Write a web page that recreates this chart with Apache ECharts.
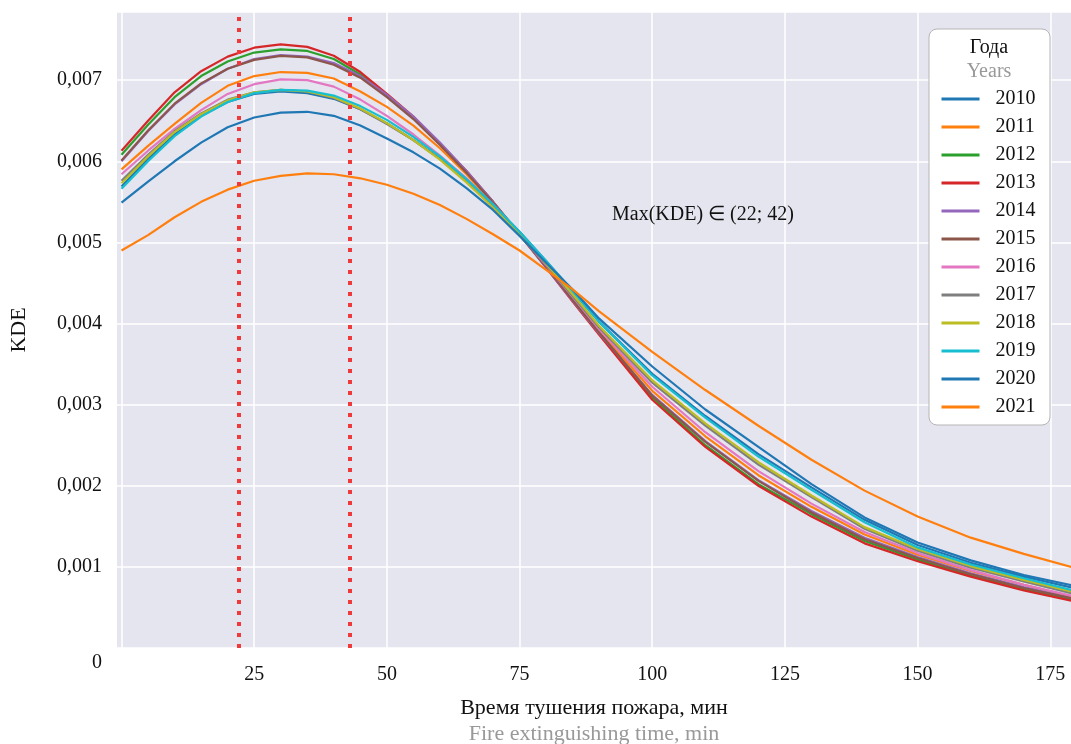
<!DOCTYPE html>
<html>
<head>
<meta charset="utf-8">
<script src="https://cdn.jsdelivr.net/npm/echarts@6/dist/echarts.min.js"></script>
<style>
  html, body { margin: 0; padding: 0; background: #fff; }
  #main { width: 1071px; height: 744px; }
</style>
</head>
<body>
<div id="main"></div>
<script>
// time, min
const xs = [0, 5, 10, 15, 20, 25, 30, 35, 40, 45, 50, 55, 60, 65, 70, 75, 80, 85, 90,
  100, 110, 120, 130, 140, 150, 160, 170, 180];

// KDE values, x10^-3
const kde2010 = [5.69, 6.03, 6.33, 6.56, 6.73, 6.83, 6.86, 6.84, 6.77, 6.64, 6.47, 6.26, 6.03, 5.76, 5.46, 5.13, 4.77, 4.40, 4.02, 3.38, 2.86, 2.39, 1.98, 1.58, 1.27, 1.05, 0.88, 0.73];
const kde2011 = [5.90, 6.19, 6.46, 6.72, 6.93, 7.05, 7.10, 7.09, 7.02, 6.86, 6.67, 6.44, 6.16, 5.84, 5.48, 5.09, 4.70, 4.31, 3.91, 3.17, 2.61, 2.13, 1.74, 1.40, 1.15, 0.95, 0.78, 0.62];
const kde2012 = [6.08, 6.45, 6.79, 7.05, 7.23, 7.34, 7.38, 7.36, 7.26, 7.07, 6.81, 6.53, 6.21, 5.87, 5.50, 5.10, 4.70, 4.29, 3.88, 3.09, 2.50, 2.02, 1.65, 1.32, 1.09, 0.89, 0.72, 0.58];
const kde2013 = [6.13, 6.50, 6.85, 7.11, 7.29, 7.40, 7.44, 7.41, 7.30, 7.10, 6.83, 6.55, 6.22, 5.88, 5.50, 5.10, 4.69, 4.27, 3.86, 3.06, 2.48, 2.00, 1.62, 1.29, 1.07, 0.88, 0.71, 0.57];
const kde2014 = [6.00, 6.37, 6.70, 6.95, 7.14, 7.26, 7.31, 7.29, 7.21, 7.05, 6.82, 6.55, 6.23, 5.88, 5.50, 5.10, 4.69, 4.28, 3.88, 3.12, 2.55, 2.07, 1.69, 1.36, 1.12, 0.92, 0.75, 0.60];
const kde2015 = [6.01, 6.38, 6.71, 6.96, 7.14, 7.25, 7.30, 7.28, 7.19, 7.03, 6.79, 6.52, 6.20, 5.86, 5.49, 5.10, 4.70, 4.29, 3.89, 3.11, 2.54, 2.06, 1.67, 1.34, 1.11, 0.91, 0.74, 0.60];
const kde2016 = [5.84, 6.13, 6.40, 6.63, 6.83, 6.95, 7.01, 7.00, 6.92, 6.76, 6.56, 6.33, 6.07, 5.79, 5.46, 5.10, 4.72, 4.33, 3.93, 3.22, 2.66, 2.18, 1.78, 1.43, 1.17, 0.96, 0.78, 0.63];
const kde2017 = [5.76, 6.08, 6.37, 6.59, 6.76, 6.85, 6.88, 6.86, 6.78, 6.64, 6.46, 6.26, 6.03, 5.75, 5.44, 5.11, 4.73, 4.34, 3.95, 3.27, 2.74, 2.26, 1.86, 1.47, 1.20, 0.99, 0.82, 0.66];
const kde2018 = [5.73, 6.06, 6.36, 6.58, 6.75, 6.85, 6.88, 6.86, 6.79, 6.65, 6.47, 6.26, 6.02, 5.74, 5.43, 5.10, 4.74, 4.36, 3.97, 3.30, 2.77, 2.29, 1.88, 1.49, 1.22, 1.01, 0.84, 0.68];
const kde2019 = [5.66, 6.00, 6.31, 6.55, 6.73, 6.84, 6.88, 6.87, 6.81, 6.68, 6.51, 6.30, 6.06, 5.78, 5.47, 5.13, 4.77, 4.40, 4.02, 3.36, 2.84, 2.36, 1.95, 1.55, 1.24, 1.03, 0.86, 0.70];
const kde2020 = [5.49, 5.75, 6.00, 6.23, 6.42, 6.54, 6.60, 6.61, 6.56, 6.44, 6.28, 6.11, 5.91, 5.67, 5.40, 5.08, 4.75, 4.42, 4.06, 3.47, 2.94, 2.48, 2.02, 1.61, 1.30, 1.08, 0.90, 0.76];
const kde2021 = [4.90, 5.09, 5.31, 5.50, 5.65, 5.76, 5.82, 5.85, 5.84, 5.79, 5.71, 5.60, 5.46, 5.29, 5.10, 4.90, 4.66, 4.42, 4.15, 3.65, 3.18, 2.74, 2.32, 1.94, 1.62, 1.36, 1.16, 0.98];

const years = ["2010", "2011", "2012", "2013", "2014", "2015", "2016", "2017", "2018", "2019", "2020", "2021"];
const allKde = [kde2010, kde2011, kde2012, kde2013, kde2014, kde2015, kde2016, kde2017, kde2018, kde2019, kde2020, kde2021];
const colors = ["#1f77b4", "#ff7f0e", "#2ca02c", "#d62728", "#9467bd", "#8c564b",
  "#e377c2", "#7f7f7f", "#bcbd22", "#17becf", "#1f77b4", "#ff7f0e"];

const xTicks = [0, 25, 50, 75, 100, 125, 150, 175];
const xLabels = [25, 50, 75, 100, 125, 150, 175];
const maxBounds = [22, 43]; // dotted lines
const note = "Max(KDE) \u2208 (22; 42)";

const font = "Liberation Serif";

let chart = echarts.init(document.getElementById("main"));

let series = years.map((y, i) => ({
  name: y,
  type: "line",
  data: xs.map((x, j) => [x, allKde[i][j] / 1000]),
  showSymbol: false,
  symbol: "none",
  lineStyle: { width: 2.2, color: colors[i] },
  itemStyle: { color: colors[i] },
  z: 2,
}));

// dotted bounds on top of curves
series.push({
  type: "line",
  data: [],
  silent: true,
  z: 3,
  markLine: {
    silent: true,
    symbol: ["none", "none"],
    label: { show: false },
    lineStyle: { color: "#f0393a", width: 4, type: [4, 7], cap: "butt" },
    data: maxBounds.map((v) => ({ xAxis: v })),
  },
});

let option = {
  animation: false,
  color: colors,
  grid: {
    left: 117, right: 0, top: 12, bottom: 96,
    outerBoundsMode: "none",
    show: true, backgroundColor: "#e5e5ef", borderWidth: 0,
  },
  xAxis: {
    type: "value",
    min: -0.85,
    max: 178.9,
    axisLine: { show: false },
    axisTick: { show: false, customValues: xTicks },
    axisLabel: {
      customValues: xLabels,
      fontFamily: font, fontSize: 20, color: "#111", margin: 17,
    },
    splitLine: { show: true, lineStyle: { color: "#ffffff", width: 1.5 } },
    name: "{a|Время тушения пожара, мин}\n{b|Fire extinguishing time, min}",
    nameLocation: "middle",
    nameGap: 47,
    nameTextStyle: {
      rich: {
        a: { fontFamily: font, fontSize: 22, color: "#111", lineHeight: 26 },
        b: { fontFamily: font, fontSize: 22, color: "#999", lineHeight: 26 },
      },
    },
  },
  yAxis: {
    type: "value",
    min: 0,
    max: 0.00784,
    interval: 0.001,
    axisLine: { show: false },
    axisTick: { show: false },
    axisLabel: {
      fontFamily: font, fontSize: 20, color: "#111", margin: 15,
      formatter: (v) => (v === 0 || v > 0.0075 ? "" : v.toFixed(3).replace(".", ",")),
    },
    splitLine: { show: true, lineStyle: { color: "#ffffff", width: 1.5 } },
    name: "KDE",
    nameLocation: "middle",
    nameGap: 87,
    nameTextStyle: { fontFamily: font, fontSize: 22, color: "#111" },
  },
  legend: {
    orient: "vertical",
    left: 940,
    top: 89,
    padding: 0,
    itemWidth: 38,
    itemHeight: 14,
    itemGap: 8,
    z: 10,
    data: years,
    itemStyle: { opacity: 0 },
    lineStyle: { width: 3 },
    textStyle: { fontFamily: font, fontSize: 20, color: "#111", padding: [0, 0, 0, 11] },
  },
  graphic: [
    {
      type: "rect", z: 5, silent: true,
      shape: { x: 929, y: 29, width: 121, height: 396, r: 8 },
      style: { fill: "#ffffff", stroke: "#b5b5b5", lineWidth: 1 },
    },
    {
      type: "text", z: 6, silent: true, x: 989, y: 48,
      style: { text: "Года", fontFamily: font, fontSize: 20, fill: "#111", align: "center", verticalAlign: "middle" },
    },
    {
      type: "text", z: 6, silent: true, x: 989, y: 72,
      style: { text: "Years", fontFamily: font, fontSize: 20, fill: "#999", align: "center", verticalAlign: "middle" },
    },
    {
      type: "text", z: 6, silent: true, x: 612, y: 215,
      style: { text: note, fontFamily: font, fontSize: 20, fill: "#111", align: "left", verticalAlign: "middle" },
    },
    {
      type: "text", z: 6, silent: true, x: 102, y: 663,
      style: { text: "0", fontFamily: font, fontSize: 20, fill: "#111", align: "right", verticalAlign: "middle" },
    },
  ],
  series: series,
};
chart.setOption(option);
</script>
</body>
</html>
